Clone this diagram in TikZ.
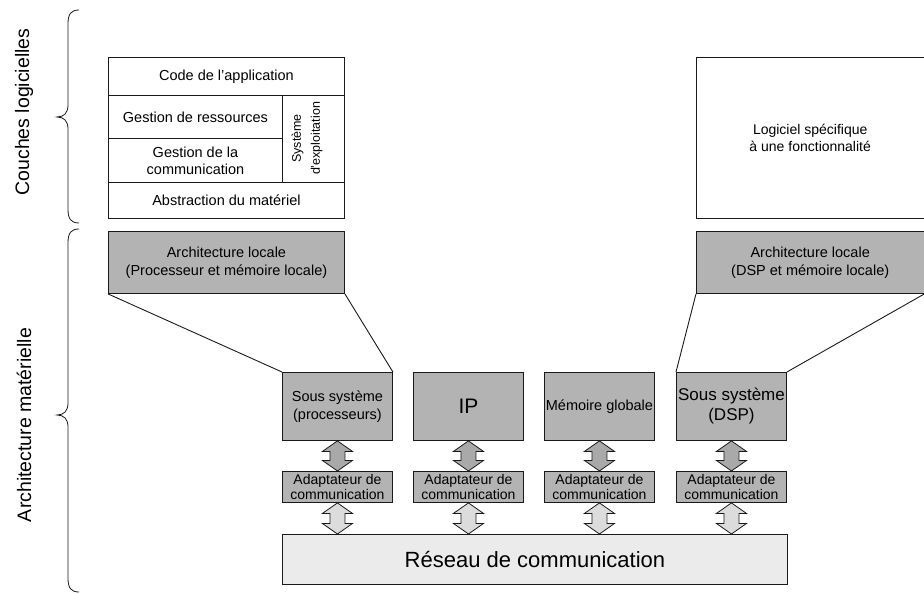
\documentclass[tikz,border=0pt]{standalone}
\usepackage{fontspec}
\setmainfont{Liberation Sans}
\usetikzlibrary{calc}
\definecolor{boxgray}{HTML}{B3B3B3}
\definecolor{arrowgray}{HTML}{A9A9A9}
\definecolor{lightarrow}{HTML}{DCDCDC}
\definecolor{netgray}{HTML}{EBEBEB}
\definecolor{ink}{HTML}{1A1A1A}
% double-headed vertical block arrow between two points
\newcommand\duplex[3]{%
  \draw[ink, line width=0.8pt, fill=#3] let \p1=(#1), \p2=(#2) in
    (\x1,\y1) -- (\x1+15pt,\y1-10.5pt) -- (\x1+7.5pt,\y1-10.5pt)
    -- (\x1+7.5pt,\y2+10.5pt) -- (\x1+15pt,\y2+10.5pt) -- (\x1,\y2)
    -- (\x1-15pt,\y2+10.5pt) -- (\x1-7.5pt,\y2+10.5pt)
    -- (\x1-7.5pt,\y1-10.5pt) -- (\x1-15pt,\y1-10.5pt) -- cycle;}
\begin{document}
\begin{tikzpicture}[x=1pt,y=-1pt,
  blk/.style={draw=ink, line width=0.9pt, inner sep=0pt, align=center,
    anchor=north west, font=\fontsize{14.5}{17}\selectfont},
  sw/.style={blk, fill=white},
  hw/.style={blk, fill=boxgray},
  unit/.style={hw, minimum width=110pt, minimum height=68pt},
  adapt/.style={hw, minimum width=110pt, minimum height=31pt,
    font=\fontsize{14}{15}\selectfont},
  side/.style={rotate=90, font=\fontsize{19.5}{22}\selectfont},
  brace/.style={ink, line width=0.8pt},
  link/.style={ink, line width=0.9pt}]
\useasboundingbox (0,0) rectangle (924,594);

% software layers
\node[sw, minimum width=236pt, minimum height=38pt] (code) at (108,57) {Code de l'application};
\node[sw, minimum width=174pt, minimum height=43pt] (res) at (108,95) {Gestion de ressources};
\node[sw, minimum width=174pt, minimum height=44pt] (com) at (108,138) {Gestion de la\\communication};
\node[sw, minimum width=62pt, minimum height=87pt] (os) at (282,95) {};
\node[rotate=90, align=center, inner sep=0pt, font=\fontsize{12.5}{19}\selectfont] (ostxt) at (307,138.5) {Système\\d'exploitation};
\node[sw, minimum width=236pt, minimum height=36pt] (abs) at (108,182) {Abstraction du matériel};
\node[sw, minimum width=227.5pt, minimum height=161pt, font=\fontsize{14}{17}\selectfont] (spec) at (696,57) {Logiciel spécifique\\à une fonctionnalité};

% local architectures
\node[hw, minimum width=236pt, minimum height=62pt, font=\fontsize{14.5}{18}\selectfont] (archL) at (108,231) {Architecture locale\\(Processeur et mémoire locale)};
\node[hw, minimum width=227.5pt, minimum height=62pt, font=\fontsize{14.5}{18}\selectfont] (archR) at (696,231) {Architecture locale\\(DSP et mémoire locale)};

% subsystems
\node[unit, font=\fontsize{14.5}{18}\selectfont] (ss1) at (282,372) {Sous système\\(processeurs)};
\node[unit, font=\fontsize{21}{24}\selectfont] (ip) at (413,372) {IP};
\node[unit, font=\fontsize{14.5}{17}\selectfont] (mem) at (544,372) {Mémoire globale};
\node[unit, font=\fontsize{17}{20}\selectfont] (ss4) at (676,372) {Sous système\\(DSP)};

% adapters
\node[adapt] (ad1) at (282,471) {Adaptateur de\\communication};
\node[adapt] (ad2) at (413,471) {Adaptateur de\\communication};
\node[adapt] (ad3) at (544,471) {Adaptateur de\\communication};
\node[adapt] (ad4) at (676,471) {Adaptateur de\\communication};

% network
\node[blk, fill=netgray, minimum width=505pt, minimum height=50pt, font=\fontsize{22}{24}\selectfont] (net) at (282,534) {Réseau de communication};

% zoom lines
\draw[link] (archL.south west) -- (ss1.north west);
\draw[link] (archL.south east) -- (ss1.north east);
\draw[link] (archR.south west) -- (ss4.north west);
\draw[link] (archR.south east) -- (ss4.north east);

% block arrows
\duplex{ss1.south}{ad1.north}{arrowgray}
\duplex{ip.south}{ad2.north}{arrowgray}
\duplex{mem.south}{ad3.north}{arrowgray}
\duplex{ss4.south}{ad4.north}{arrowgray}
\duplex{ad1.south}{ad1.south |- net.north}{lightarrow}
\duplex{ad2.south}{ad2.south |- net.north}{lightarrow}
\duplex{ad3.south}{ad3.south |- net.north}{lightarrow}
\duplex{ad4.south}{ad4.south |- net.north}{lightarrow}

% braces and side labels
\draw[brace] (79,10) .. controls (71,10) and (68,14) .. (68,24) -- (68,105)
  .. controls (68,113) and (64,117) .. (57,117)
  .. controls (64,117) and (68,121) .. (68,129) -- (68,209)
  .. controls (68,219) and (71,223) .. (79,223);
\draw[brace] (79,229) .. controls (71,229) and (68,233) .. (68,243) -- (68,403)
  .. controls (68,411) and (64,415) .. (57,415)
  .. controls (64,415) and (68,419) .. (68,427) -- (68,578)
  .. controls (68,588) and (71,592) .. (79,592);
\node[side] (soft) at (24,112) {Couches logicielles};
\node[side] (hard) at (24,425) {Architecture matérielle};
\end{tikzpicture}
\end{document}
